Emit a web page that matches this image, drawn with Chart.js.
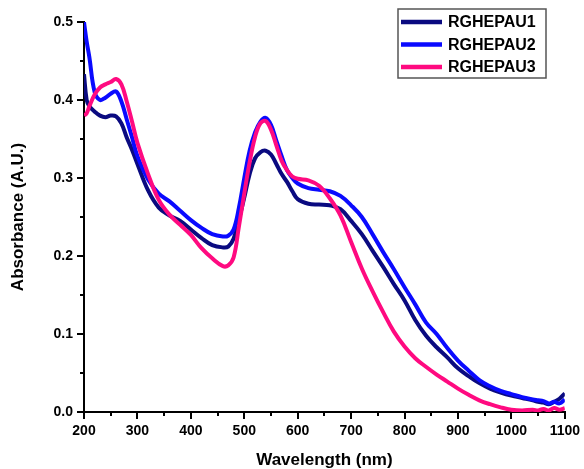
<!DOCTYPE html>
<html>
<head>
<meta charset="utf-8">
<title>Absorbance spectra</title>
<script src="https://cdn.jsdelivr.net/npm/chart.js"></script>
<style>
    html, body { margin: 0; padding: 0; background: #fff; }
    #wrap { width: 584px; height: 469px; }
</style>
</head>
<body>
<div id="wrap"><canvas id="spectraChart" width="584" height="469"></canvas></div>
<script>
// wavelength (nm) shared by all three spectra
const wavelengths = [200, 205, 210, 220, 230, 240, 250, 260, 270, 280, 290, 300,
    320, 340, 360, 380, 400, 420, 440, 460,
    470, 480, 490, 500, 510, 520, 530, 540, 550, 560, 570, 580, 590, 600,
    620, 640, 660, 680, 700, 720, 740, 760, 780, 800, 820, 840, 860, 880, 900, 920, 940, 960, 980, 1000, 1020, 1040,
    1050, 1060, 1070, 1080, 1090, 1100];

const rghepau1 = [0.433, 0.400, 0.392, 0.385, 0.380, 0.378, 0.380, 0.379, 0.370, 0.352, 0.336, 0.318,
    0.284, 0.262, 0.252, 0.245, 0.234, 0.223, 0.214, 0.211,
    0.212, 0.222, 0.247, 0.275, 0.305, 0.325, 0.333, 0.335, 0.330, 0.318, 0.305, 0.295, 0.283, 0.273,
    0.267, 0.266, 0.265, 0.260, 0.245, 0.228, 0.207, 0.186, 0.164, 0.143, 0.118, 0.098, 0.083, 0.070, 0.056, 0.046, 0.037, 0.030, 0.025, 0.021, 0.018, 0.015,
    0.013, 0.012, 0.010, 0.013, 0.017, 0.024];

const rghepau2 = [0.500, 0.475, 0.455, 0.410, 0.400, 0.403, 0.408, 0.411, 0.398, 0.375, 0.352, 0.328,
    0.298, 0.280, 0.270, 0.258, 0.246, 0.236, 0.228, 0.225,
    0.226, 0.234, 0.262, 0.300, 0.335, 0.358, 0.372, 0.377, 0.368, 0.348, 0.328, 0.310, 0.300, 0.293,
    0.287, 0.285, 0.283, 0.277, 0.265, 0.250, 0.228, 0.205, 0.183, 0.160, 0.138, 0.115, 0.100, 0.082, 0.066, 0.053, 0.041, 0.033, 0.027, 0.023, 0.019, 0.016,
    0.015, 0.014, 0.011, 0.013, 0.011, 0.016];

const rghepau3 = [0.380, 0.383, 0.392, 0.407, 0.416, 0.420, 0.423, 0.427, 0.420, 0.398, 0.372, 0.345,
    0.305, 0.272, 0.253, 0.240, 0.227, 0.210, 0.197, 0.187,
    0.188, 0.198, 0.238, 0.280, 0.320, 0.352, 0.370, 0.373, 0.362, 0.342, 0.322, 0.310, 0.302, 0.299,
    0.297, 0.290, 0.274, 0.252, 0.218, 0.184, 0.155, 0.128, 0.103, 0.084, 0.069, 0.058, 0.048, 0.039, 0.030, 0.022, 0.015, 0.010, 0.006, 0.003, 0.002, 0.003,
    0.002, 0.004, 0.002, 0.005, 0.003, 0.005];

const seriesNames = ['RGHEPAU1', 'RGHEPAU2', 'RGHEPAU3'];
const seriesColors = ['#0a0a80', '#0a0aff', '#ff0a80'];

const xMinorTicks = [250, 350, 450, 550, 650, 750, 850, 950, 1050];
const yMinorTicks = [0.05, 0.15, 0.25, 0.35, 0.45];

const fontFamily = '"Liberation Sans", Arial, Helvetica, sans-serif';

function toPoints(values) {
    return wavelengths.map((w, i) => ({ x: w, y: values[i] }));
}

// short minor ticks between the labelled ones
const minorTicks = {
    id: 'minorTicks',
    afterDraw(chart) {
        const { ctx, chartArea, scales } = chart;
        ctx.save();
        ctx.strokeStyle = '#000';
        ctx.lineWidth = 2;
        ctx.beginPath();
        xMinorTicks.forEach(v => {
            const px = Math.round(scales.x.getPixelForValue(v));
            ctx.moveTo(px, chartArea.bottom);
            ctx.lineTo(px, chartArea.bottom + 4);
        });
        yMinorTicks.forEach(v => {
            const py = Math.round(scales.y.getPixelForValue(v));
            ctx.moveTo(chartArea.left, py);
            ctx.lineTo(chartArea.left - 4, py);
        });
        ctx.stroke();
        ctx.restore();
    }
};

// boxed legend in the top right corner
const boxLegend = {
    id: 'boxLegend',
    afterDraw(chart) {
        const ctx = chart.ctx;
        ctx.save();
        ctx.strokeStyle = '#555';
        ctx.lineWidth = 1.5;
        ctx.strokeRect(398, 9, 148, 69);
        ctx.font = 'bold 16px ' + fontFamily;
        ctx.textBaseline = 'middle';
        ctx.textAlign = 'left';
        const rows = [22, 44.5, 67];
        chart.data.datasets.forEach((ds, i) => {
            ctx.strokeStyle = ds.borderColor;
            ctx.lineWidth = 4.5;
            ctx.beginPath();
            ctx.moveTo(401, rows[i]);
            ctx.lineTo(442, rows[i]);
            ctx.stroke();
            ctx.fillStyle = '#000';
            ctx.fillText(ds.label, 448, rows[i] + 1);
        });
        ctx.restore();
    }
};

function initSpectraChart() {
    const ctx = document.getElementById('spectraChart').getContext('2d');
    const allSeries = [rghepau1, rghepau2, rghepau3];

    new Chart(ctx, {
        type: 'line',
        data: {
            datasets: allSeries.map((values, i) => ({
                label: seriesNames[i],
                data: toPoints(values),
                borderColor: seriesColors[i],
                backgroundColor: seriesColors[i],
                borderWidth: 4,
                pointRadius: 0,
                tension: 0.4,
                fill: false,
                order: 3 - i
            }))
        },
        options: {
            responsive: false,
            animation: false,
            layout: { padding: { top: 22, right: 17, left: 0, bottom: 0 } },
            plugins: {
                legend: { display: false },
                tooltip: { enabled: false }
            },
            scales: {
                x: {
                    type: 'linear',
                    min: 200,
                    max: 1100,
                    afterFit: scale => { scale.height = 57; },
                    ticks: {
                        stepSize: 100,
                        maxRotation: 0,
                        autoSkip: false,
                        padding: 4,
                        color: '#000',
                        callback: v => String(v),
                        font: { family: fontFamily, size: 14, weight: 'bold' }
                    },
                    grid: { drawOnChartArea: false, drawTicks: true, tickLength: 7, color: '#000', lineWidth: 2 },
                    border: { display: true, color: '#000', width: 2 },
                    title: {
                        display: true,
                        text: 'Wavelength (nm)',
                        color: '#000',
                        padding: { top: 0, bottom: -2 },
                        font: { family: fontFamily, size: 17, weight: 'bold' }
                    }
                },
                y: {
                    min: 0,
                    max: 0.5,
                    afterFit: scale => { scale.width = 84; },
                    ticks: {
                        stepSize: 0.1,
                        padding: 4,
                        color: '#000',
                        callback: v => v.toFixed(1),
                        font: { family: fontFamily, size: 14, weight: 'bold' }
                    },
                    grid: { drawOnChartArea: false, drawTicks: true, tickLength: 7, color: '#000', lineWidth: 2 },
                    border: { display: true, color: '#000', width: 2 },
                    title: {
                        display: true,
                        text: 'Absorbance (A.U.)',
                        color: '#000',
                        padding: { top: 8, bottom: 0 },
                        font: { family: fontFamily, size: 17, weight: 'bold' }
                    }
                }
            }
        },
        plugins: [minorTicks, boxLegend]
    });
}

document.addEventListener('DOMContentLoaded', () => {
    initSpectraChart();
});
</script>
</body>
</html>
